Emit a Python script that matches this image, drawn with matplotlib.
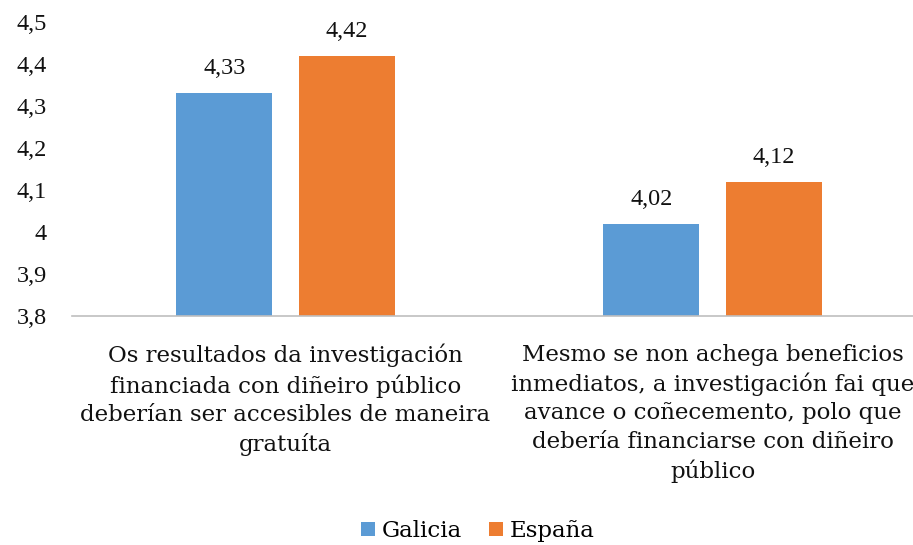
import matplotlib.pyplot as plt
import numpy as np

# chart data
categories = [
    "Os resultados da investigación\nfinanciada con diñeiro público\ndeberían ser accesibles de maneira\ngratuíta",
    "Mesmo se non achega beneficios\ninmediatos, a investigación fai que\navance o coñecemento, polo que\ndebería financiarse con diñeiro\npúblico",
]
series_names = ["Galicia", "España"]
galicia = [4.33, 4.02]
espana = [4.42, 4.12]
colors = ["#5B9BD5", "#ED7D31"]
y_ticks = [3.8, 3.9, 4.0, 4.1, 4.2, 4.3, 4.4, 4.5]
y_tick_labels = ["3,8", "3,9", "4", "4,1", "4,2", "4,3", "4,4", "4,5"]

label_font = "DejaVu Serif"
num_font = "Liberation Serif"

fig = plt.figure(figsize=(9.13, 5.45), dpi=100)
# the plot area runs past the right edge, as in the original
ax = fig.add_axes([72 / 913, 1 - 316 / 545, 854 / 913, 294 / 545])

x = np.arange(len(categories))
width = 0.225
offset = 0.143
for vals, name, col, sign in zip([galicia, espana], series_names, colors, [-1, 1]):
    bars = ax.bar(x + sign * offset, vals, width, color=col, label=name)
    for b, v in zip(bars, vals):
        ax.text(b.get_x() + b.get_width() / 2, v + 0.045, f"{v:.2f}".replace(".", ","),
                ha="center", va="baseline", fontsize=17.5, family=num_font, color="#111111")

ax.set_xlim(-0.5, 1.5)
ax.set_ylim(3.8, 4.5)
ax.set_yticks(y_ticks)
ax.set_yticklabels(y_tick_labels, family=num_font, fontsize=17.5, color="#111111")
ax.set_xticks(x)
ax.set_xticklabels(categories, family=label_font, fontsize=16.5, linespacing=1.37, color="#111111")
ax.tick_params(axis="both", length=0)
ax.tick_params(axis="y", pad=18)
ax.tick_params(axis="x", pad=20)

for s in ["top", "right", "left"]:
    ax.spines[s].set_visible(False)
ax.spines["bottom"].set_color("#BFBFBF")
ax.spines["bottom"].set_linewidth(1.2)

leg = fig.legend(loc="center", bbox_to_anchor=(478 / 913, 1 - 531 / 545), ncol=2, frameon=False,
                 prop={"family": label_font, "size": 16.5}, handlelength=0.6, handleheight=0.6,
                 handletextpad=0.3, columnspacing=1.2)

fig.savefig("out.png", dpi=100)
